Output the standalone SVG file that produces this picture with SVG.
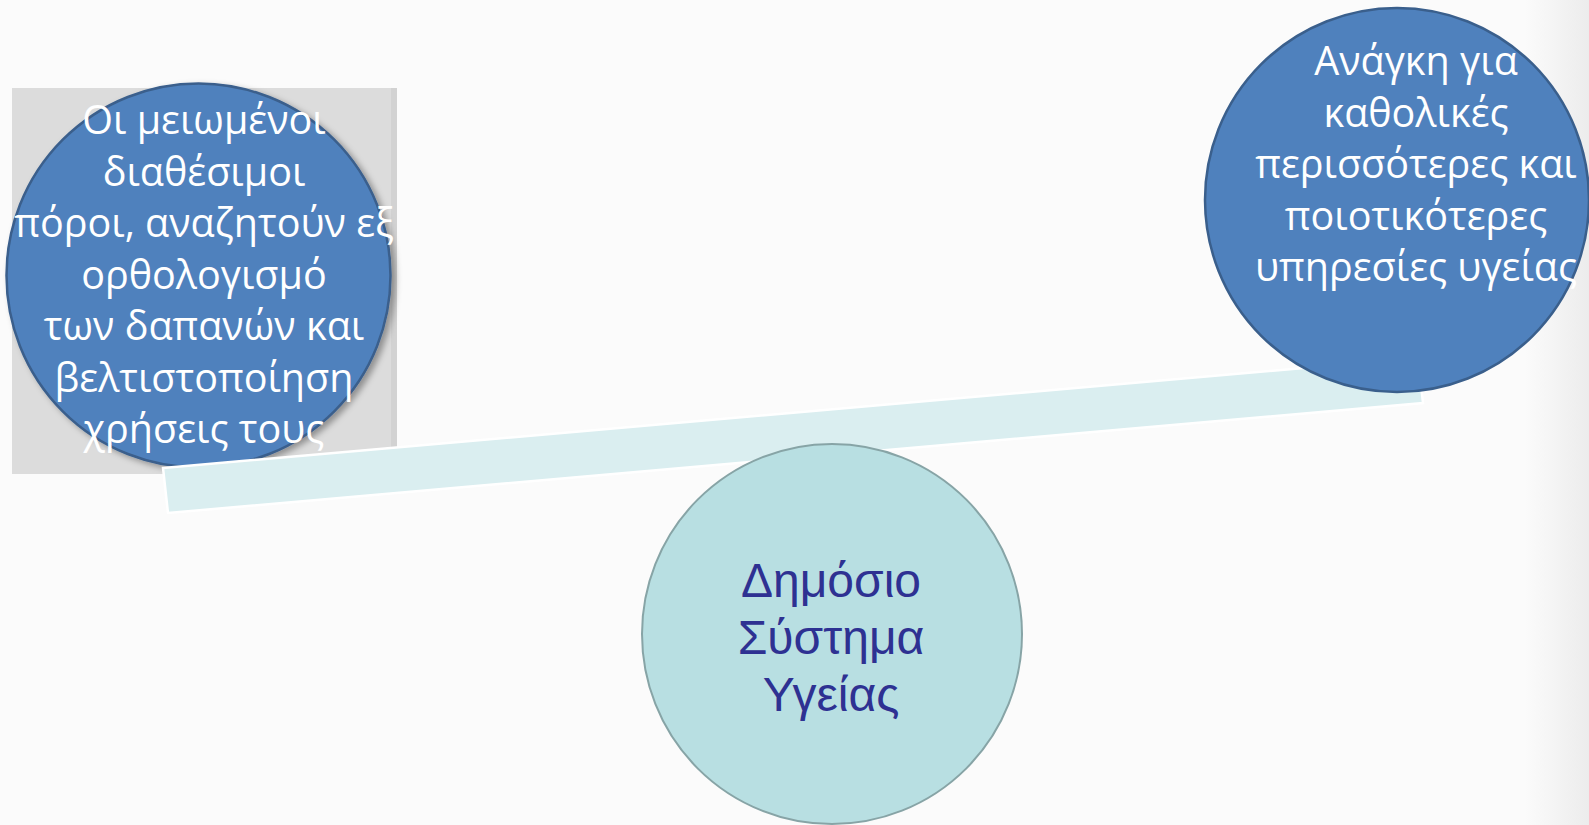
<svg xmlns="http://www.w3.org/2000/svg" width="1589" height="825" viewBox="0 0 1589 825">
<style>
.bg{fill:#fbfbfb}
.blue{fill:#4f81bd;stroke:#3a5f8c;stroke-width:2.5}
.wt{fill:#ffffff;font-family:"Open Sans","Noto Sans",sans-serif;font-size:39.5px;text-anchor:middle}
.ct{fill:#2e3192;font-family:"Liberation Sans",Arial,sans-serif;font-size:48px;text-anchor:middle}
.beam{fill:#daeef0;stroke:#ffffff;stroke-width:2.5}
.hub{fill:#b8dfe2;stroke:#87a4a6;stroke-width:2}
</style>
<defs>
<linearGradient id="edge" x1="0" y1="0" x2="1" y2="0">
<stop offset="0" stop-color="#fbfbfb"/>
<stop offset="1" stop-color="#ececec"/>
</linearGradient>
<filter id="sh" x="-10%" y="-10%" width="125%" height="125%">
<feDropShadow dx="4" dy="3" stdDeviation="3" flood-color="#000" flood-opacity="0.35"/>
</filter>
</defs>
<rect class="bg" x="0" y="0" width="1589" height="825"/>
<rect x="1525" y="0" width="64" height="825" fill="url(#edge)"/>
<g id="node-left">
<rect x="12" y="88" width="385" height="386" fill="#dcdcdc"/>
<rect x="391" y="88" width="6" height="386" fill="#d2d2d2"/>
<circle class="blue" cx="198.5" cy="275.5" r="192" filter="url(#sh)"/>
<text class="wt"><tspan x="204" y="134">Οι μειωμένοι</tspan><tspan x="204" y="185.5">διαθέσιμοι</tspan><tspan x="204" y="237">πόροι, αναζητούν εξ</tspan><tspan x="204" y="288.5">ορθολογισμό</tspan><tspan x="204" y="340">των δαπανών και</tspan><tspan x="204" y="391.5">βελτιστοποίηση</tspan><tspan x="204" y="443">χρήσεις τους</tspan></text>
</g>
<g id="connectors">
<polygon class="beam" points="163,468 1418,358 1423,403 168,513"/>
</g>
<g id="node-center">
<circle class="hub" cx="832" cy="634" r="190"/>
<text class="ct"><tspan x="831" y="597">Δημόσιο</tspan><tspan x="831" y="654">Σύστημα</tspan><tspan x="831" y="711">Υγείας</tspan></text>
</g>
<g id="node-right">
<circle class="blue" cx="1397" cy="200" r="192"/>
<text class="wt"><tspan x="1416" y="75">Ανάγκη για</tspan><tspan x="1416" y="126.5">καθολικές</tspan><tspan x="1416" y="178">περισσότερες και</tspan><tspan x="1416" y="229.5">ποιοτικότερες</tspan><tspan x="1416" y="281">υπηρεσίες υγείας</tspan></text>
</g>
</svg>
